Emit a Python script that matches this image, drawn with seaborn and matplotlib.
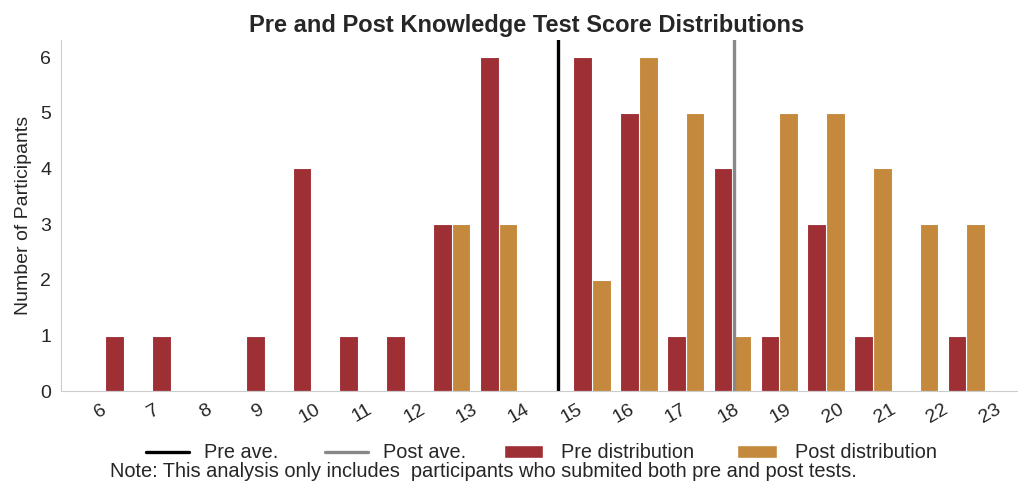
import numpy as np
import pandas as pd
import matplotlib
matplotlib.use('Agg')
import matplotlib.pyplot as plt
from matplotlib.lines import Line2D
from matplotlib.patches import Patch
import seaborn as sns

# score values and how many participants got each score
scores = list(range(6, 24))
pre_counts = [1, 1, 0, 1, 4, 1, 1, 3, 6, 6, 5, 1, 4, 1, 3, 1, 0, 1]
post_counts = [0, 0, 0, 0, 0, 0, 0, 3, 3, 2, 6, 5, 1, 5, 5, 4, 3, 3]
tick_labels = [str(s) for s in scores]

pre_color = '#9E2F35'
post_color = '#C4893C'

# rebuild individual scores from the counts
pre_scores = np.repeat(scores, pre_counts)
post_scores = np.repeat(scores, post_counts)
df = pd.DataFrame({
    'score': np.concatenate([pre_scores, post_scores]),
    'test': ['Pre'] * len(pre_scores) + ['Post'] * len(post_scores),
})

sns.set_style('white')
plt.rcParams['font.family'] = ['Liberation Sans', 'DejaVu Sans']

fig = plt.figure(figsize=(10.18, 4.86), dpi=100)
ax = fig.add_axes([0.06, 0.195, 0.94, 0.722])

sns.histplot(data=df, x='score', hue='test', hue_order=['Pre', 'Post'],
             bins=19, multiple='dodge', shrink=0.8,
             palette={'Pre': pre_color, 'Post': post_color},
             alpha=1, edgecolor='white', linewidth=0.8, legend=False, ax=ax)

# average lines
ax.axvline(pre_scores.mean(), color='black', lw=2.4)
ax.axvline(post_scores.mean(), color='#888888', lw=2.4)

ax.set_xlim(5.24, 23.54)
ax.set_ylim(0, 6.3)
ax.set_xticks(scores)
ax.set_xticklabels(tick_labels, rotation=30, fontsize=14)
ax.tick_params(axis='y', labelsize=14)
ax.set_xlabel('')
ax.set_ylabel('Number of Participants', fontsize=14, labelpad=6)
ax.set_title('Pre and Post Knowledge Test Score Distributions',
             fontsize=17, fontweight='bold', pad=6, x=0.487)
sns.despine(ax=ax)
for side in ['left', 'bottom']:
    ax.spines[side].set_color('#cccccc')

# two legends: average lines and distributions
line_handles = [Line2D([0], [0], color='black', lw=2.4),
                Line2D([0], [0], color='#888888', lw=2.4)]
bar_handles = [Patch(facecolor=pre_color), Patch(facecolor=post_color)]
leg1 = fig.legend(line_handles, ['Pre ave.', 'Post ave.'], loc='center',
                  bbox_to_anchor=(0.3006, 0.068), ncol=2, frameon=False,
                  fontsize=14.3, handlelength=2.15, handletextpad=0.75,
                  columnspacing=2.35)
leg2 = fig.legend(bar_handles, ['Pre distribution', 'Post distribution'],
                  loc='center', bbox_to_anchor=(0.7073, 0.068), ncol=2,
                  frameon=False, fontsize=14.3, handlelength=2.0,
                  handletextpad=0.9, columnspacing=2.15)

fig.text(0.108, 0.029, 'Note: This analysis only includes  participants who submited both pre and post tests.',
         fontsize=14.4, color='#262626', va='center')

fig.savefig('out.png', dpi=100)
